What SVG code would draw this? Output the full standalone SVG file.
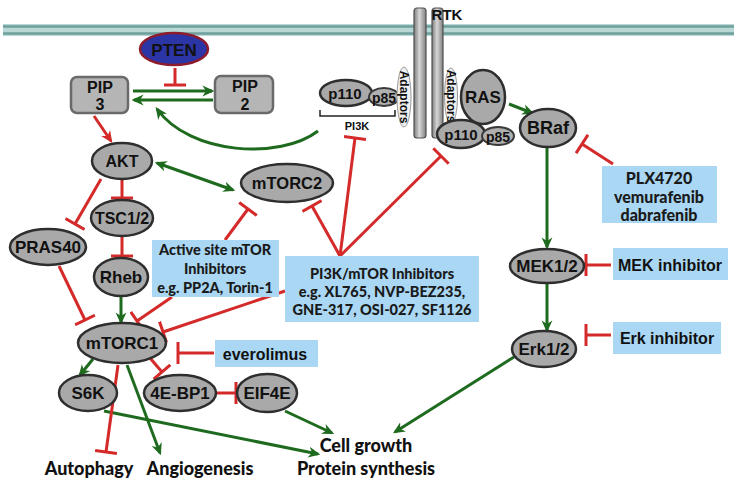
<svg xmlns="http://www.w3.org/2000/svg" width="734" height="481" viewBox="0 0 734 481">
<style>
.node{fill:#a9a9a9;stroke:#2e2e2e;stroke-width:2.5}
.small{fill:#b0b0b0;stroke:#3a3a3a;stroke-width:2}
.pip{fill:#b5b5b5;stroke:#6a6a6a;stroke-width:2.5}
.box{fill:#a9d7f4}
.adp{fill:#efefef;stroke:#9a9a9a;stroke-width:1}
.nt{font-family:"Liberation Sans",Arial,sans-serif;font-weight:bold;fill:#111;text-anchor:middle;dominant-baseline:central}
.bt{font-family:Lato,"Open Sans",sans-serif;font-weight:900;fill:#1a1a1a;text-anchor:middle;dominant-baseline:central;font-size:14.5px}
.ot{font-family:Lato,"Open Sans",sans-serif;font-weight:900;fill:#111;text-anchor:middle;dominant-baseline:central;font-size:18px}
.g{stroke:#1e6a1e;stroke-width:3;fill:none;marker-end:url(#ga)}
.r{stroke:#d42a2a;stroke-width:3;fill:none;marker-end:url(#tb)}
</style>
<defs>
<marker id="ga" viewBox="0 0 10 10" refX="8" refY="5" markerWidth="12" markerHeight="12" markerUnits="userSpaceOnUse" orient="auto-start-reverse">
<path d="M0,0.5 L10,5 L0,9.5 L3,5 z" fill="#1e6a1e"/>
</marker>
<marker id="ra" viewBox="0 0 10 10" refX="8" refY="5" markerWidth="12" markerHeight="12" markerUnits="userSpaceOnUse" orient="auto">
<path d="M0,0.5 L10,5 L0,9.5 L3,5 z" fill="#d42a2a"/>
</marker>
<marker id="tb" viewBox="0 0 4 22" refX="2" refY="11" markerWidth="4" markerHeight="22" markerUnits="userSpaceOnUse" orient="auto">
<rect x="0.5" y="0" width="3" height="22" fill="#d42a2a"/>
</marker>
<linearGradient id="bar" x1="0" y1="0" x2="1" y2="0">
<stop offset="0" stop-color="#7d7d7d"/>
<stop offset="0.45" stop-color="#d6d6d6"/>
<stop offset="1" stop-color="#808080"/>
</linearGradient>
</defs>
<rect width="734" height="481" fill="#ffffff"/>

<g id="membrane">
<rect x="3" y="24" width="731" height="12" fill="#b7d8d5"/>
<line x1="3" y1="26.5" x2="734" y2="26.5" stroke="#6f9f9b" stroke-width="2.5"/>
<line x1="3" y1="33.5" x2="734" y2="33.5" stroke="#6f9f9b" stroke-width="2.5"/>
</g>

<g id="connectors">
<path class="g" d="M133,91 L212,91"/>
<path class="g" d="M213,100 L134,100"/>
<path class="g" d="M318,131 C280,160 190,155 157,109"/>
<path d="M94,116 L111,141" stroke="#d42a2a" stroke-width="3" fill="none" marker-end="url(#ra)"/>
<path class="g" d="M157,163 L233,190" marker-start="url(#ga)"/>
<path class="g" d="M509,104 L532,113"/>
<path class="g" d="M547,148 L547,247"/>
<path class="g" d="M547,284 L547,330"/>
<path class="g" d="M514,357 L395,432"/>
<path class="g" d="M121,297 L121,322"/>
<path class="g" d="M93,359 L80,375"/>
<path class="g" d="M127,365 L160,453"/>
<path class="g" d="M104,411 L318,454"/>
<path class="g" d="M285,411 L332,433"/>

<path class="r" d="M175,68 L175,85"/>
<path class="r" d="M122,180 L122,198"/>
<path class="r" d="M122,237 L122,256"/>
<path class="r" d="M101,179 L75,224"/>
<path class="r" d="M59,266 L85,320"/>
<path class="r" d="M225,240 L248,209"/>
<path class="r" d="M172,297 L137,321"/>
<path class="r" d="M285,291 L163,332"/>
<path class="r" d="M340,256 L312,206"/>
<path class="r" d="M340,256 L355,138"/>
<path class="r" d="M340,256 L441,156"/>
<path class="r" d="M613,164 L582,144"/>
<path class="r" d="M611,265 L586,265"/>
<path class="r" d="M611,335 L586,335"/>
<path class="r" d="M150,358 L162,372"/>
<path class="r" d="M214,353 L178,353"/>
<path class="r" d="M215,393 L236,393"/>
<path class="r" d="M118,365 L106,452"/>
</g>

<g id="rtk">
<rect x="414" y="8" width="12" height="130" rx="3" fill="url(#bar)" stroke="#505050" stroke-width="1.2"/>
<rect x="432" y="8" width="11" height="130" rx="3" fill="url(#bar)" stroke="#505050" stroke-width="1.2"/>
<text class="nt" x="447" y="14" font-size="15" text-anchor="start">RTK</text>
</g>

<g id="pten">
<ellipse cx="174" cy="49" rx="34" ry="16" fill="#2c35a6" stroke="#8e1c2c" stroke-width="2.5"/>
<text class="nt" x="174" y="50" font-size="17">PTEN</text>
</g>
<g id="pip3">
<rect x="71" y="77" width="57" height="36" rx="6" class="pip"/>
<text class="nt" x="100" y="87" font-size="16">PIP</text>
<text class="nt" x="100" y="104" font-size="16">3</text>
</g>
<g id="pip2">
<rect x="215" y="76" width="58" height="37" rx="6" class="pip"/>
<text class="nt" x="245" y="86" font-size="16">PIP</text>
<text class="nt" x="245" y="104" font-size="16">2</text>
</g>

<g id="pi3k">
<ellipse cx="346" cy="93" rx="26" ry="13" class="node"/>
<text class="nt" x="345" y="93" font-size="15">p110</text>
<ellipse cx="384" cy="97" rx="15" ry="9" class="small"/>
<text class="nt" x="384" y="98" font-size="14">p85</text>
<path d="M320,110 L320,116 L395,116 L395,110" fill="none" stroke="#222" stroke-width="1.5"/>
<text class="nt" x="357" y="126" font-size="11">PI3K</text>
</g>
<g id="adaptors-left">
<ellipse cx="404" cy="97" rx="7" ry="30" class="adp"/>
<text class="nt" transform="translate(404,97) rotate(90)" font-size="12">Adaptors</text>
</g>
<g id="adaptors-right">
<ellipse cx="451" cy="96" rx="6.5" ry="28" class="adp"/>
<text class="nt" transform="translate(451,96) rotate(90)" font-size="12">Adaptors</text>
</g>
<g id="ras">
<ellipse cx="483" cy="97" rx="22" ry="27" class="node"/>
<text class="nt" x="483" y="97" font-size="17">RAS</text>
</g>
<g id="p110-rtk">
<ellipse cx="461" cy="134" rx="24" ry="14" class="node"/>
<text class="nt" x="461" y="134" font-size="15">p110</text>
<ellipse cx="498" cy="136" rx="16" ry="9" class="small"/>
<text class="nt" x="498" y="137" font-size="14">p85</text>
</g>
<g id="braf">
<ellipse cx="548" cy="128" rx="28" ry="19" class="node"/>
<text class="nt" x="548" y="128" font-size="18">BRaf</text>
</g>
<g id="akt">
<ellipse cx="122" cy="161" rx="30" ry="18" class="node"/>
<text class="nt" x="122" y="161" font-size="16">AKT</text>
</g>
<g id="mtorc2">
<ellipse cx="287" cy="183" rx="46" ry="19" class="node"/>
<text class="nt" x="287" y="183" font-size="16.5">mTORC2</text>
</g>
<g id="tsc">
<ellipse cx="122" cy="218" rx="31" ry="18" class="node"/>
<text class="nt" x="122" y="218" font-size="16">TSC1/2</text>
</g>
<g id="pras40">
<ellipse cx="48" cy="247" rx="38" ry="18" class="node"/>
<text class="nt" x="48" y="247" font-size="17">PRAS40</text>
</g>
<g id="rheb">
<ellipse cx="121" cy="277" rx="27" ry="19" class="node"/>
<text class="nt" x="121" y="277" font-size="17">Rheb</text>
</g>
<g id="mtorc1">
<ellipse cx="122" cy="343" rx="44" ry="20" class="node"/>
<text class="nt" x="122" y="343" font-size="17">mTORC1</text>
</g>
<g id="s6k">
<ellipse cx="88" cy="393" rx="29" ry="18" class="node"/>
<text class="nt" x="88" y="393" font-size="17">S6K</text>
</g>
<g id="4ebp1">
<ellipse cx="180" cy="393" rx="36" ry="18" class="node"/>
<text class="nt" x="180" y="393" font-size="17">4E-BP1</text>
</g>
<g id="eif4e">
<ellipse cx="267" cy="393" rx="30" ry="19" class="node"/>
<text class="nt" x="267" y="393" font-size="17">EIF4E</text>
</g>
<g id="mek">
<ellipse cx="547" cy="266" rx="37" ry="17" class="node"/>
<text class="nt" x="547" y="266" font-size="17">MEK1/2</text>
</g>
<g id="erk">
<ellipse cx="544" cy="349" rx="32" ry="18" class="node"/>
<text class="nt" x="544" y="349" font-size="17">Erk1/2</text>
</g>

<g id="active-site">
<rect x="152" y="240" width="127" height="57" class="box"/>
<text class="bt" x="215" y="249">Active site mTOR</text>
<text class="bt" x="215" y="268">Inhibitors</text>
<text class="bt" x="215" y="287">e.g. PP2A, Torin-1</text>
</g>
<g id="pi3k-mtor-inh">
<rect x="285" y="256" width="194" height="66" class="box"/>
<text class="bt" x="382" y="273">PI3K/mTOR Inhibitors</text>
<text class="bt" x="382" y="291">e.g. XL765, NVP-BEZ235,</text>
<text class="bt" x="382" y="309">GNE-317, OSI-027, SF1126</text>
</g>
<g id="plx">
<rect x="602" y="166" width="115" height="57" class="box"/>
<text class="bt" x="659" y="177" font-size="16px" style="font-size:16px">PLX4720</text>
<text class="bt" x="659" y="196" style="font-size:16px">vemurafenib</text>
<text class="bt" x="659" y="214" style="font-size:16px">dabrafenib</text>
</g>
<g id="mek-inh">
<rect x="613" y="248" width="115" height="32" class="box"/>
<text class="nt" x="670" y="265" font-size="16">MEK inhibitor</text>
</g>
<g id="erk-inh">
<rect x="613" y="322" width="108" height="32" class="box"/>
<text class="nt" x="667" y="338" font-size="16">Erk inhibitor</text>
</g>
<g id="everolimus">
<rect x="215" y="340" width="103" height="27" class="box"/>
<text class="nt" x="265" y="354" font-size="16">everolimus</text>
</g>

<g id="outcomes">
<text class="ot" x="89" y="468">Autophagy</text>
<text class="ot" x="200" y="468">Angiogenesis</text>
<text class="ot" x="366" y="445">Cell growth</text>
<text class="ot" x="366" y="468">Protein synthesis</text>
</g>
</svg>
